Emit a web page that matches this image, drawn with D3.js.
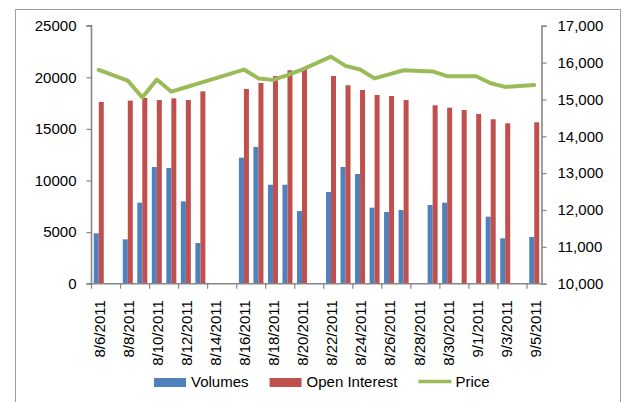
<!DOCTYPE html>
<html>
<head>
<meta charset="utf-8">
<script src="https://cdn.jsdelivr.net/npm/d3@7"></script>
<style>
  html, body { margin: 0; padding: 0; background: #fff; }
  svg { display: block; }
  text { font-family: "Liberation Sans", Arial, sans-serif; font-size: 15px; fill: #000; }
</style>
</head>
<body>
<svg id="chart" width="626" height="402"></svg>
<script>
// ---- data ----
const dates = ["8/6/2011","8/7/2011","8/8/2011","8/9/2011","8/10/2011","8/11/2011","8/12/2011","8/13/2011",
  "8/14/2011","8/15/2011","8/16/2011","8/17/2011","8/18/2011","8/19/2011","8/20/2011","8/21/2011",
  "8/22/2011","8/23/2011","8/24/2011","8/25/2011","8/26/2011","8/27/2011","8/28/2011","8/29/2011",
  "8/30/2011","8/31/2011","9/1/2011","9/2/2011","9/3/2011","9/4/2011","9/5/2011"];
const volumes = [4880, null, 4300, 7850, 11310, 11210, 7980, 3940, null, null, 12210, 13250, 9590, 9590, 7045, null,
  8885, 11310, 10630, 7365, 6950, 7140, null, 7625, 7850, null, null, 6490, 4400, null, 4525];
const openInterest = [17610, null, 17740, 18000, 17800, 17960, 17800, 18640, null, null, 18870, 19450, 20130, 20680, 20800, null,
  20130, 19230, 18770, 18290, 18190, 17800, null, 17290, 17060, 16830, 16450, 15930, 15540, null, 15640];
const price = [15800, null, 15510, 15050, 15540, 15210, 15330, 15450, null, null, 15810, 15570, 15530, 15660, 15810, null,
  16160, 15910, 15810, 15570, 15680, 15790, null, 15760, 15630, 15630, 15630, 15440, 15340, null, 15390];
const leftTicks = [0, 5000, 10000, 15000, 20000, 25000];
const rightTicks = [10000, 11000, 12000, 13000, 14000, 15000, 16000, 17000];
const seriesNames = ["Volumes", "Open Interest", "Price"];
const colors = { "Volumes": "#4F81BD", "Open Interest": "#C0504D", "Price": "#9BBB59" };

// ---- layout ----
const svg = d3.select("#chart");
const plot = { left: 91.5, right: 541.5, top: 25.7, bottom: 283.7 };
const axisColor = "#868686";

// chart area border (bottom edge falls outside the picture)
svg.append("rect").attr("x", 15.5).attr("y", 9.5).attr("width", 605).attr("height", 410)
  .attr("fill", "none").attr("stroke", "#a0a0a0").attr("stroke-width", 1);

const x = d3.scaleBand().domain(dates).range([plot.left, plot.right]).paddingInner(0).paddingOuter(0);
const xSub = d3.scaleBand().domain(["Volumes", "Open Interest"]).range([0, x.bandwidth()]).paddingInner(0).paddingOuter(0.45);
const yL = d3.scaleLinear().domain([0, 25000]).range([plot.bottom, plot.top]);
const yR = d3.scaleLinear().domain([10000, 17000]).range([plot.bottom, plot.top]);

// bars
const barSeries = [
  { name: "Volumes", values: volumes },
  { name: "Open Interest", values: openInterest }
];
barSeries.forEach(s => {
  svg.append("g").selectAll("rect")
    .data(dates.map((d, i) => ({ d, v: s.values[i] })).filter(p => p.v != null))
    .join("rect")
    .attr("x", p => x(p.d) + xSub(s.name))
    .attr("width", xSub.bandwidth())
    .attr("y", p => yL(p.v))
    .attr("height", p => yL(0) - yL(p.v))
    .attr("fill", colors[s.name]);
});

// price line (connects across missing dates)
const pricePts = dates.map((d, i) => ({ d, v: price[i] })).filter(p => p.v != null);
const line = d3.line().x(p => x(p.d) + x.bandwidth() / 2).y(p => yR(p.v));
svg.append("path").datum(pricePts).attr("d", line)
  .attr("fill", "none").attr("stroke", colors["Price"]).attr("stroke-width", 4)
  .attr("stroke-linejoin", "round").attr("stroke-linecap", "round");

// left axis
const gL = svg.append("g").attr("transform", `translate(${plot.left},0)`)
  .call(d3.axisLeft(yL).tickValues(leftTicks).tickFormat(d3.format("d")).tickSize(5).tickPadding(10));
// right axis
const gR = svg.append("g").attr("transform", `translate(${plot.right},0)`)
  .call(d3.axisRight(yR).tickValues(rightTicks).tickFormat(d3.format(",")).tickSize(5).tickPadding(11));
[gL, gR].forEach(g => {
  g.select(".domain").attr("stroke", axisColor).attr("stroke-width", 1.6);
  g.selectAll(".tick line").attr("stroke", axisColor).attr("stroke-width", 1.2);
  g.selectAll(".tick text").attr("font-family", "Liberation Sans, Arial, sans-serif").attr("font-size", 15).attr("fill", "#000");
  g.attr("font-size", 15);
});
gL.select(".domain").attr("d", `M-5,${plot.top}H0V${plot.bottom}H-5`);

// bottom axis: labels on every other date (band centres), ticks at band starts
const evenDates = dates.filter((d, i) => i % 2 === 0);
const gB = svg.append("g").attr("transform", `translate(0,${plot.bottom})`)
  .call(d3.axisBottom(x).tickValues(evenDates).tickSize(0).tickPadding(0));
gB.select(".domain").attr("stroke", axisColor).attr("stroke-width", 1.6)
  .attr("d", `M${plot.left},0H${plot.right}`);
gB.selectAll(".tick text")
  .attr("font-family", "Liberation Sans, Arial, sans-serif").attr("font-size", 15).attr("fill", "#000")
  .attr("text-anchor", "end")
  .attr("transform", "translate(1,16.5) rotate(-90)")
  .attr("x", 0).attr("y", 0).attr("dy", "0.36em");
svg.append("g").selectAll("line").data(evenDates).join("line")
  .attr("x1", d => x(d)).attr("x2", d => x(d))
  .attr("y1", plot.bottom).attr("y2", plot.bottom + 5)
  .attr("stroke", axisColor).attr("stroke-width", 1.2);

// legend
const lg = svg.append("g");
let lx = 154;
seriesNames.forEach(name => {
  if (name === "Price") {
    lg.append("line").attr("x1", lx).attr("x2", lx + 33).attr("y1", 381.5).attr("y2", 381.5)
      .attr("stroke", colors[name]).attr("stroke-width", 3.5);
  } else {
    lg.append("rect").attr("x", lx).attr("y", 378).attr("width", 32).attr("height", 9).attr("fill", colors[name]);
  }
  const t = lg.append("text").attr("x", lx + 37).attr("y", 386.5).text(name);
  lx = lx + 37 + t.node().getComputedTextLength() + 21;
});
</script>
</body>
</html>
